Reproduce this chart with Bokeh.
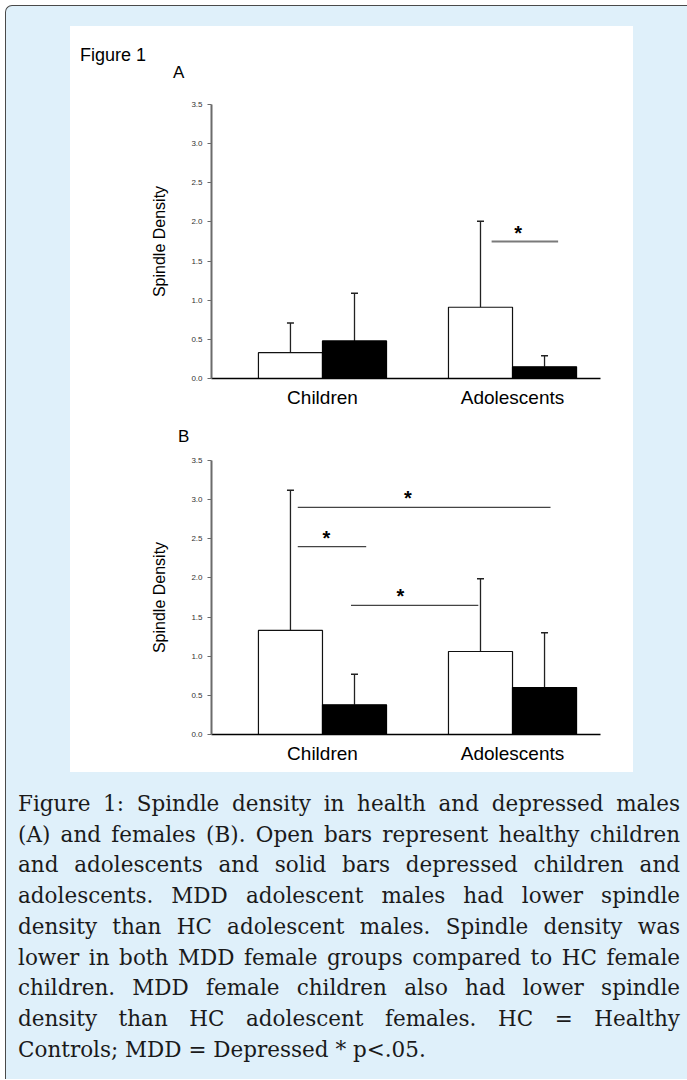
from bokeh.plotting import figure
from bokeh.models import (Range1d, FixedTicker, Whisker, TeeHead, ColumnDataSource,
                          Div, Spacer, NumeralTickFormatter)
from bokeh.layouts import column, row
from bokeh.core.properties import value
from bokeh.embed import file_html
from bokeh.resources import INLINE

# ---------------- data ----------------
categories = ["Children", "Adolescents"]

# Panel A (males)
male_hc_mean = [0.33, 0.91]
male_hc_sd = [0.38, 1.10]
male_mdd_mean = [0.48, 0.15]
male_mdd_sd = [0.61, 0.14]

# Panel B (females)
female_hc_mean = [1.33, 1.06]
female_hc_sd = [1.79, 0.93]
female_mdd_mean = [0.38, 0.60]
female_mdd_sd = [0.39, 0.70]

y_ticks = [0.0, 0.5, 1.0, 1.5, 2.0, 2.5, 3.0, 3.5]

# significance brackets (x in category-index units, y in spindle density)
male_sig_x0 = [0.89]
male_sig_x1 = [1.24]
male_sig_y = [1.75]
male_star_x = [1.03]

female_sig_x0 = [-0.13, -0.13, 0.15]
female_sig_x1 = [1.20, 0.23, 0.82]
female_sig_y = [2.90, 2.40, 1.65]
female_star_x = [0.45, 0.02, 0.41]

caption_lines = [
    "Figure 1: Spindle density in health and depressed males",
    "(A) and females (B). Open bars represent healthy children",
    "and adolescents and solid bars depressed children and",
    "adolescents. MDD adolescent males had lower spindle",
    "density than HC adolescent males. Spindle density was",
    "lower in both MDD female groups compared to HC female",
    "children. MDD female children also had lower spindle",
    "density than HC adolescent females. HC = Healthy",
    "Controls; MDD = Depressed * p<.05.",
]

# ---------------- styling ----------------
FONT = "Liberation Sans"
BAR_W = 0.337
BLUE = "#dff0fa"


def make_panel(hc_mean, hc_sd, mdd_mean, mdd_sd, sx0, sx1, sy, starx,
               height, top, bottom, sig_color, sig_width):
    p = figure(width=563, height=height, x_range=Range1d(-0.584, 1.463),
               y_range=Range1d(0, 3.5), output_backend="svg", toolbar_location=None,
               min_border_left=141, min_border_right=33, min_border_top=top,
               min_border_bottom=bottom, title=None)
    p.outline_line_color = None
    p.xgrid.visible = False
    p.ygrid.visible = False
    p.background_fill_color = "white"
    p.border_fill_color = "white"

    idx = list(range(len(categories)))
    hc_x = [i - BAR_W / 2 for i in idx]
    mdd_x = [i + BAR_W / 2 for i in idx]

    p.vbar(x=hc_x, top=hc_mean, width=BAR_W, fill_color="white",
           line_color="#111111", line_width=1.2)
    p.vbar(x=mdd_x, top=mdd_mean, width=BAR_W, fill_color="black",
           line_color="black", line_width=1.2)

    err = ColumnDataSource(dict(
        base=hc_x + mdd_x,
        lower=list(hc_mean) + list(mdd_mean),
        upper=[m + s for m, s in zip(hc_mean, hc_sd)] + [m + s for m, s in zip(mdd_mean, mdd_sd)],
    ))
    p.add_layout(Whisker(source=err, base="base", lower="lower", upper="upper",
                         dimension="height", line_color="#222222", line_width=1.3,
                         lower_head=None,
                         upper_head=TeeHead(size=7, line_color="#222222", line_width=1.5)))

    p.segment(x0=sx0, y0=sy, x1=sx1, y1=sy, line_color=sig_color, line_width=sig_width)
    p.text(x=starx, y=sy, text=["*"] * len(starx), text_font=value(FONT),
           text_font_style="bold", text_font_size="20px", text_align="center",
           text_baseline="alphabetic", y_offset=-9, text_color="black")

    ya = p.yaxis[0]
    ya.ticker = FixedTicker(ticks=y_ticks)
    ya.formatter = NumeralTickFormatter(format="0.0")
    ya.major_label_text_font_size = "8px"
    ya.major_label_text_font = FONT
    ya.major_label_text_color = "#333333"
    ya.major_label_standoff = 5
    ya.axis_line_color = "#6b6b6b"
    ya.axis_line_width = 2
    ya.major_tick_line_color = "#6b6b6b"
    ya.major_tick_out = 4
    ya.major_tick_in = 0
    ya.minor_tick_line_color = None
    ya.axis_label = "Spindle Density"
    ya.axis_label_text_font = FONT
    ya.axis_label_text_font_size = "16px"
    ya.axis_label_text_font_style = "normal"
    ya.axis_label_text_color = "black"
    ya.axis_label_standoff = 20

    xa = p.xaxis[0]
    xa.ticker = FixedTicker(ticks=idx)
    xa.major_label_overrides = {i: c for i, c in zip(idx, categories)}
    xa.major_tick_line_color = None
    xa.minor_tick_line_color = None
    xa.axis_line_color = "black"
    xa.axis_line_width = 1.5
    xa.major_label_text_font = FONT
    xa.major_label_text_font_size = "19px"
    xa.major_label_text_color = "black"
    xa.major_label_standoff = 2
    return p


# panel A: y 90..415 in page, frame top at 104
pA = make_panel(male_hc_mean, male_hc_sd, male_mdd_mean, male_mdd_sd,
                male_sig_x0, male_sig_x1, male_sig_y, male_star_x,
                height=325, top=14, bottom=37, sig_color="#7a7a7a", sig_width=2)
# panel B: y 450..772 in page, frame top at 460
pB = make_panel(female_hc_mean, female_hc_sd, female_mdd_mean, female_mdd_sd,
                female_sig_x0, female_sig_x1, female_sig_y, female_star_x,
                height=322, top=10, bottom=38, sig_color="#444444", sig_width=1.3)

SANS = "font-family:'Liberation Sans',Arial,sans-serif;color:black;"
header = Div(
    text=(f'<div style="position:relative;width:563px;height:64px;{SANS}">'
          '<span style="position:absolute;left:10px;top:19px;font-size:18px;line-height:20px;">Figure 1</span>'
          '<span style="position:absolute;left:103px;top:38px;font-size:17px;line-height:18px;">A</span>'
          '</div>'),
    width=563, height=64, margin=(0, 0, 0, 0), styles={"background-color": "white"})
b_label = Div(
    text=(f'<div style="position:relative;width:563px;height:35px;{SANS}">'
          '<span style="position:absolute;left:108px;top:13px;font-size:17px;line-height:18px;">B</span>'
          '</div>'),
    width=563, height=35, margin=(0, 0, 0, 0), styles={"background-color": "white"})

line_divs = []
for k, ln in enumerate(caption_lines):
    txt = ln.replace("&", "&amp;").replace("<", "&lt;").replace(">", "&gt;")
    last = (k == len(caption_lines) - 1)
    align = "left" if last else "justify"
    line_divs.append(
        f'<div style="width:662px;white-space:nowrap;text-align:{align};'
        f'text-align-last:{align};">{txt}</div>')
caption_html = (
    '<div style="padding:17px 0 0 12px;font-family:\'DejaVu Serif\',serif;'
    'font-size:21.5px;line-height:30.7px;color:#1a1a1a;">' + "".join(line_divs) + "</div>"
)
caption = Div(text=caption_html, width=681, height=307, margin=(0, 0, 0, 0))

white_col = column(header, pA, b_label, pB, styles={"background-color": "white"})
mid = row(Spacer(width=64, height=746), white_col, Spacer(width=54, height=746))
root = column(Spacer(width=681, height=20), mid, caption,
              styles={"background-color": BLUE,
                      "border-left": "1px solid #4a4a4a",
                      "border-top": "1px solid #4a4a4a",
                      "border-top-left-radius": "7px"},
              margin=(5, 0, 0, 5))

open("out.html", "w").write(file_html(root, INLINE))
